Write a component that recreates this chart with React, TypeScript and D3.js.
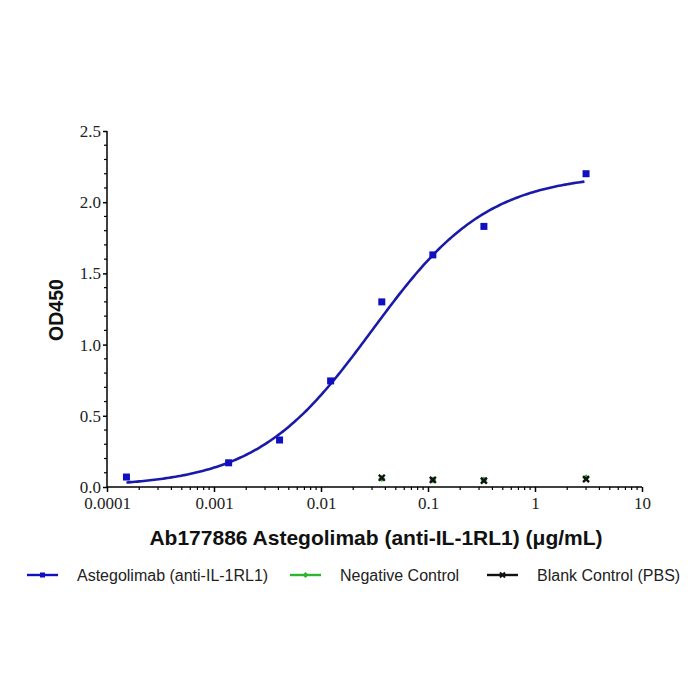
import React, { useEffect, useRef } from 'react';
import * as d3 from 'd3';

// concentrations (µg/mL) and OD450 readings
const conc = [0.000152, 0.00137, 0.0041, 0.0123, 0.037, 0.111, 0.333, 3];
const od = [0.07, 0.17, 0.33, 0.745, 1.3, 1.63, 1.83, 2.2];

const ctrlConc = [0.037, 0.111, 0.333, 3];
const negOd = [0.06, 0.05, 0.05, 0.065];
const blankOd = [0.065, 0.05, 0.045, 0.055];

// 4PL fit parameters
const fit = { bottom: 0, top: 2.2, ec50: 0.03, hill: 0.8 };

const xTicks = [0.0001, 0.001, 0.01, 0.1, 1, 10];
const xTickLabels = ['0.0001', '0.001', '0.01', '0.1', '1', '10'];
const yTicks = [0, 0.5, 1, 1.5, 2, 2.5];

const legendItems = [
  { label: 'Astegolimab (anti-IL-1RL1)', color: '#1010c0', marker: 'square' },
  { label: 'Negative Control', color: '#2db52d', marker: 'diamond' },
  { label: 'Blank Control (PBS)', color: '#111111', marker: 'cross' },
];

const App = () => {
  const ref = useRef<SVGSVGElement>(null);

  useEffect(() => {
    if (!ref.current) return;
    const svg = d3.select(ref.current);
    svg.selectAll('*').remove();

    const x = d3.scaleLog().domain([0.0001, 10]).range([107, 642]);
    const y = d3.scaleLinear().domain([0, 2.5]).range([487, 131]);

    const serif = '"Liberation Serif", "Times New Roman", serif';
    const sans = '"Liberation Sans", Arial, sans-serif';

    // y axis
    const yAxis = d3.axisLeft(y).tickValues(yTicks).tickFormat(d3.format('.1f')).tickSize(4).tickPadding(2);
    const gy = svg.append('g').attr('transform', 'translate(107,0)').call(yAxis);
    gy.select('.domain').attr('stroke-width', 1.5).attr('d', 'M0,131V487');
    gy.selectAll('.tick line').attr('stroke-width', 1.5);
    gy.selectAll('text').style('font-family', serif).style('font-size', '17px').attr('fill', '#222');
    // minor y ticks
    const yMinor = d3.range(0, 2.51, 0.1).filter(v => Math.abs(v * 2 - Math.round(v * 2)) > 0.01);
    svg.append('g').selectAll('line').data(yMinor).enter().append('line')
      .attr('x1', 104).attr('x2', 107)
      .attr('y1', d => y(d)).attr('y2', d => y(d))
      .attr('stroke', '#000').attr('stroke-width', 1.2);

    // x axis
    const xAxis = d3.axisBottom(x).tickValues(xTicks).tickFormat((d, i) => xTickLabels[i]).tickSize(5).tickPadding(5);
    const gx = svg.append('g').attr('transform', 'translate(0,487)').call(xAxis);
    gx.select('.domain').attr('stroke-width', 1.5).attr('d', 'M107,0H642');
    gx.selectAll('.tick line').attr('stroke-width', 1.5);
    gx.selectAll('text').style('font-family', serif).style('font-size', '17px').attr('fill', '#222');
    const xMinor: number[] = [];
    for (let e = -4; e < 1; e++) for (let k = 2; k <= 9; k++) xMinor.push(k * Math.pow(10, e));
    svg.append('g').selectAll('line').data(xMinor).enter().append('line')
      .attr('x1', d => x(d)).attr('x2', d => x(d))
      .attr('y1', 487).attr('y2', 490)
      .attr('stroke', '#000').attr('stroke-width', 1.2);

    // axis titles
    svg.append('text')
      .attr('x', 376).attr('y', 545)
      .attr('text-anchor', 'middle')
      .style('font-family', sans).style('font-weight', 'bold').style('font-size', '21px')
      .attr('fill', '#111')
      .text('Ab177886 Astegolimab (anti-IL-1RL1) (μg/mL)');
    svg.append('text')
      .attr('transform', 'translate(63,310) rotate(-90)')
      .attr('text-anchor', 'middle')
      .style('font-family', sans).style('font-weight', 'bold').style('font-size', '19.5px')
      .attr('fill', '#111')
      .text('OD450');

    // fitted curve
    const f = (c: number) => fit.bottom + (fit.top - fit.bottom) / (1 + Math.pow(fit.ec50 / c, fit.hill));
    const lx = d3.range(Math.log10(conc[0]), Math.log10(conc[conc.length - 1]) + 0.001, 0.02);
    const line = d3.line<number>()
      .x(d => x(Math.pow(10, d)))
      .y(d => y(f(Math.pow(10, d))))
      .curve(d3.curveLinear);
    svg.append('path')
      .datum(lx)
      .attr('fill', 'none')
      .attr('stroke', '#1a1aa8')
      .attr('stroke-width', 2.6)
      .attr('d', line);

    // controls
    const drawCross = (g: any, cx: number, cy: number, s: number, color: string, w: number) => {
      g.append('path')
        .attr('d', `M${cx - s},${cy - s}L${cx + s},${cy + s}M${cx - s},${cy + s}L${cx + s},${cy - s}`)
        .attr('stroke', color).attr('stroke-width', w).attr('fill', 'none');
    };
    const neg = svg.append('g');
    ctrlConc.forEach((c, i) => {
      const cx = x(c), cy = y(negOd[i]);
      neg.append('path')
        .attr('d', `M${cx},${cy - 3.5}L${cx + 3.5},${cy}L${cx},${cy + 3.5}L${cx - 3.5},${cy}Z`)
        .attr('fill', '#2db52d');
    });
    const blank = svg.append('g');
    ctrlConc.forEach((c, i) => drawCross(blank, x(c), y(blankOd[i]), 3, '#111', 2.4));

    // samples
    svg.append('g').selectAll('rect').data(conc).enter().append('rect')
      .attr('x', d => x(d) - 3.5)
      .attr('y', (d, i) => y(od[i]) - 3.5)
      .attr('width', 7).attr('height', 7)
      .attr('fill', '#1010c0');

    // legend
    const legX = [27, 290, 487];
    const lg = svg.append('g');
    legendItems.forEach((it, i) => {
      const lx0 = legX[i], ly = 575;
      lg.append('line').attr('x1', lx0).attr('x2', lx0 + 31).attr('y1', ly).attr('y2', ly)
        .attr('stroke', it.color).attr('stroke-width', 2.4);
      const cx = lx0 + 15.5;
      if (it.marker === 'square') {
        lg.append('rect').attr('x', cx - 2.5).attr('y', ly - 2.5).attr('width', 5).attr('height', 5).attr('fill', it.color);
      } else if (it.marker === 'diamond') {
        lg.append('path').attr('d', `M${cx},${ly - 3}L${cx + 3},${ly}L${cx},${ly + 3}L${cx - 3},${ly}Z`).attr('fill', it.color);
      } else {
        drawCross(lg, cx, ly, 2.5, it.color, 2);
      }
      lg.append('text')
        .attr('x', lx0 + 50).attr('y', ly + 6)
        .style('font-family', sans).style('font-size', '16px')
        .attr('fill', '#222')
        .text(it.label);
    });
  }, []);

  return (
    <div>
      <svg ref={ref} width="700" height="700" style={{ position: 'absolute', left: 0, top: 0, background: '#fff' }}></svg>
    </div>
  );
};

export default App;
